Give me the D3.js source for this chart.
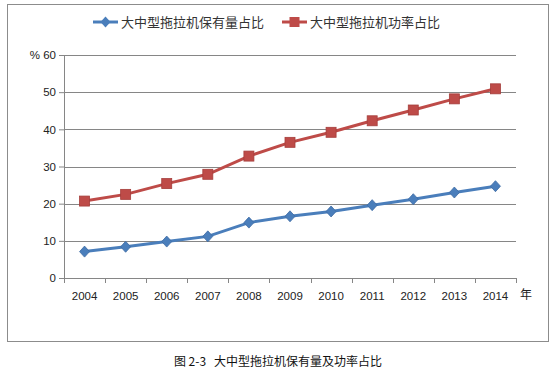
<!DOCTYPE html>
<html>
<head>
<meta charset="utf-8">
<script src="https://cdn.jsdelivr.net/npm/d3@7"></script>
<style>
  body { margin: 0; background: #fff; }
  svg { display: block; font-family: "Liberation Sans", "DejaVu Sans", sans-serif; }
</style>
</head>
<body>
<svg id="chart" width="556" height="370"></svg>
<script>
// data
var years = ['2004','2005','2006','2007','2008','2009','2010','2011','2012','2013','2014'];
var countShare = [7.1, 8.4, 9.8, 11.2, 14.9, 16.6, 17.9, 19.6, 21.2, 23.0, 24.7];
var powerShare = [20.7, 22.5, 25.4, 27.9, 32.8, 36.5, 39.2, 42.3, 45.2, 48.2, 50.9];
var seriesNames = ['大中型拖拉机保有量占比', '大中型拖拉机功率占比'];
var yTicks = [0, 10, 20, 30, 40, 50, 60];
var caption = '图 2-3   大中型拖拉机保有量及功率占比';

var svg = d3.select('#chart');
var margin = { top: 55, left: 64, right: 40, bottom: 92 };
var innerW = 516 - margin.left;
var innerH = 278 - margin.top;

// outer frame
svg.append('rect')
  .attr('x', 7.5).attr('y', 4.5)
  .attr('width', 541).attr('height', 337)
  .style('fill', 'none').style('stroke', '#8c8c8c').style('stroke-width', 1);

var g = svg.append('g').attr('transform', `translate(${margin.left},${margin.top})`);

var xScale = d3.scaleBand().domain(years).range([0, innerW]);
var yScale = d3.scaleLinear().domain([0, 60]).range([innerH, 0]);

// gridlines
g.selectAll('.grid').data(yTicks.filter(d => d > 0)).enter()
  .append('line')
  .attr('x1', 0).attr('x2', innerW)
  .attr('y1', d => Math.round(yScale(d)) + 0.5)
  .attr('y2', d => Math.round(yScale(d)) + 0.5)
  .style('stroke', '#868686').style('stroke-width', 1);

// y axis
var yAxis = g.append('g')
  .call(d3.axisLeft(yScale).tickValues(yTicks).tickSize(5).tickSizeOuter(0)
    .tickFormat(d => d == 60 ? '% 60' : d));
yAxis.select('.domain').style('stroke', '#868686');
yAxis.selectAll('line').style('stroke', '#868686');
yAxis.selectAll('text').style('font-size', '11.5px').style('fill', '#222').attr('x', -8);

// x axis
var xAxis = g.append('g').attr('transform', `translate(0,${innerH})`)
  .call(d3.axisBottom(xScale).tickSize(0).tickSizeOuter(0));
xAxis.select('.domain').style('stroke', '#868686');
xAxis.selectAll('text').attr('y', 14).style('font-size', '11.5px').style('fill', '#222');
// category boundary ticks
xAxis.selectAll('.bound').data(d3.range(years.length + 1)).enter()
  .append('line')
  .attr('x1', i => Math.round(i * xScale.step()) + 0.5)
  .attr('x2', i => Math.round(i * xScale.step()) + 0.5)
  .attr('y1', 0).attr('y2', 5)
  .style('stroke', '#868686');

g.append('text')
  .attr('x', innerW + 4).attr('y', innerH + 21)
  .style('font-family', '"Noto Sans CJK SC", sans-serif')
  .style('font-size', '12px').style('fill', '#222')
  .text('年');

var cx = d => xScale(d) + xScale.bandwidth() / 2;

var line = d3.line()
  .x((d, i) => cx(years[i]))
  .y(d => yScale(d));

var blue = '#4a7ebb', red = '#be4b48';

g.append('path').datum(countShare)
  .attr('d', line)
  .style('fill', 'none').style('stroke', blue).style('stroke-width', 3);
g.append('path').datum(powerShare)
  .attr('d', line)
  .style('fill', 'none').style('stroke', red).style('stroke-width', 3);

var diamond = 'M0,-5.5L5,0L0,5.5L-5,0Z';
g.selectAll('.dia').data(countShare).enter()
  .append('path')
  .attr('d', diamond)
  .attr('transform', (d, i) => `translate(${cx(years[i])},${yScale(d)})`)
  .style('fill', '#4a7ebb').style('stroke', '#3d6ba3').style('stroke-width', 0.8);

g.selectAll('.sq').data(powerShare).enter()
  .append('rect')
  .attr('x', (d, i) => cx(years[i]) - 5)
  .attr('y', d => yScale(d) - 5)
  .attr('width', 10).attr('height', 10)
  .style('fill', '#be4b48').style('stroke', '#a53e3b').style('stroke-width', 0.8);

// legend
var legend = svg.append('g').attr('transform', 'translate(0,22)');
var legendX = [93, 282];
var legendColors = [blue, red];
seriesNames.forEach(function(name, i) {
  var lg = legend.append('g').attr('transform', `translate(${legendX[i]},0)`);
  lg.append('line').attr('x1', 0).attr('x2', 25).attr('y1', 0).attr('y2', 0)
    .style('stroke', legendColors[i]).style('stroke-width', 3);
  if (i == 0) {
    lg.append('path').attr('d', diamond)
      .attr('transform', 'translate(12.5,0)')
      .style('fill', blue);
  } else {
    lg.append('rect').attr('x', 7.5).attr('y', -5).attr('width', 10).attr('height', 10)
      .style('fill', red);
  }
  lg.append('text').attr('x', 28).attr('y', 5)
    .style('font-family', '"Noto Sans CJK SC", sans-serif')
    .style('font-size', '13px').style('fill', '#333')
    .text(name);
});

// caption
svg.append('text')
  .attr('x', 278).attr('y', 366)
  .attr('text-anchor', 'middle')
  .style('white-space', 'pre')
  .style('font-family', '"Noto Sans CJK SC", sans-serif')
  .style('font-size', '12px').style('fill', '#111')
  .text(caption);
</script>
</body>
</html>
